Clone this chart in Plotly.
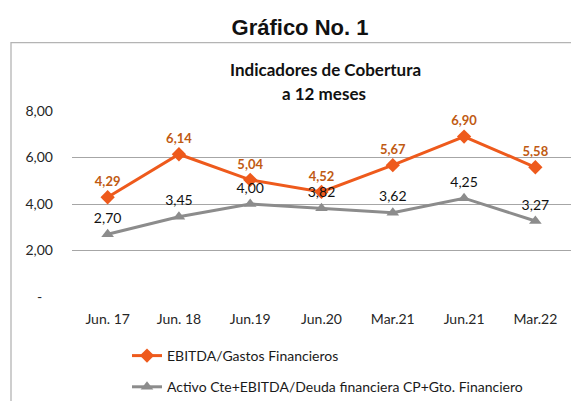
import plotly.graph_objects as go

categories = ["Jun. 17", "Jun. 18", "Jun.19", "Jun.20", "Mar.21", "Jun.21", "Mar.22"]
ebitda_gastos = [4.29, 6.14, 5.04, 4.52, 5.67, 6.90, 5.58]
activo_deuda = [2.70, 3.45, 4.00, 3.82, 3.62, 4.25, 3.27]
y_tickvals = [0, 2, 4, 6, 8]
y_ticktext = ["-\u00a0\u00a0\u00a0", "2,00", "4,00", "6,00", "8,00"]

# page body has an 8px default margin; compensate so the picture lines up
OFF = 8
W, H = 579 - OFF, 401 - OFF
L, T = 72 - OFF, 111 - OFF
R = W - (571 - OFF)
B = H - (297 - OFF)
pw, ph = W - L - R, H - T - B

def px_x(x):
    # x given in reference (screen) pixels
    return (x - OFF - L) / pw

def px_y(y):
    return (H - B - (y - OFF)) / ph

FONT = "Lato"
ORANGE = "#EE5A1C"
ORANGE_TXT = "#C05A12"
GRAY = "#8C8C8C"

fig = go.Figure()
fig.add_trace(go.Scatter(
    x=categories, y=ebitda_gastos, name="EBITDA/Gastos Financieros",
    mode="lines+markers+text", legendgroup="a",
    line=dict(color=ORANGE, width=3),
    marker=dict(symbol="diamond", size=11, color=ORANGE),
    texttemplate="%{y:.2f}", textposition="top center",
    textfont=dict(family=FONT, size=13, color=ORANGE_TXT, weight="bold"),
    cliponaxis=False,
))
fig.add_trace(go.Scatter(
    x=categories, y=activo_deuda, name="Activo Cte+EBITDA/Deuda financiera CP+Gto. Financiero",
    mode="lines+markers+text", legendgroup="b",
    line=dict(color=GRAY, width=3),
    marker=dict(symbol="triangle-up", size=11, color=GRAY),
    texttemplate="%{y:.2f}", textposition="top center",
    textfont=dict(family=FONT, size=14, color="#111111"),
    cliponaxis=False,
))

fig.update_layout(
    width=W, height=H,
    margin=dict(l=L, r=R, t=T, b=B, pad=0, autoexpand=False),
    paper_bgcolor="white", plot_bgcolor="white",
    separators=",.",
    font=dict(family=FONT, size=14, color="#1a1a1a"),
    title=dict(text="<b>Gráfico No. 1</b>", x=(300 - OFF) / W, xanchor="center",
               y=1 - (27 - OFF) / H, yanchor="middle",
               font=dict(family="Liberation Sans", size=22, color="#111111")),
    xaxis=dict(type="category", range=[-0.5, 6.5], showgrid=False, showline=False,
               zeroline=False, ticks="", ticklabelstandoff=12,
               tickfont=dict(family=FONT, size=14, color="#262626", weight="normal")),
    yaxis=dict(range=[0, 8], tickvals=y_tickvals, ticktext=y_ticktext,
               showgrid=True, gridcolor="#A6A6A6", gridwidth=1,
               zeroline=False, showline=False, ticks="", ticklabelstandoff=18,
               tickfont=dict(family=FONT, size=14, color="#262626", weight="normal")),
    showlegend=True,
    legend=dict(x=px_x(127), y=px_y(340), xanchor="left", yanchor="top",
                orientation="v", tracegroupgap=10, bgcolor="rgba(0,0,0,0)",
                font=dict(family=FONT, size=14, color="#1a1a1a")),
    annotations=[
        dict(text="<b>Indicadores de Cobertura</b>", x=px_x(325), y=px_y(69.5),
             xref="paper", yref="paper", showarrow=False, xanchor="center", yanchor="middle",
             font=dict(family=FONT, size=17, color="#111111")),
        dict(text="<b>a 12 meses</b>", x=px_x(324), y=px_y(93),
             xref="paper", yref="paper", showarrow=False, xanchor="center", yanchor="middle",
             font=dict(family=FONT, size=17, color="#111111")),
    ],
    shapes=[
        dict(type="rect", xref="paper", yref="paper",
             x0=px_x(11), x1=px_x(620), y0=px_y(440), y1=px_y(42.7),
             line=dict(color="#B4B4B4", width=1.3), fillcolor="rgba(0,0,0,0)", layer="below"),
    ],
)

fig.write_html("out.html")
